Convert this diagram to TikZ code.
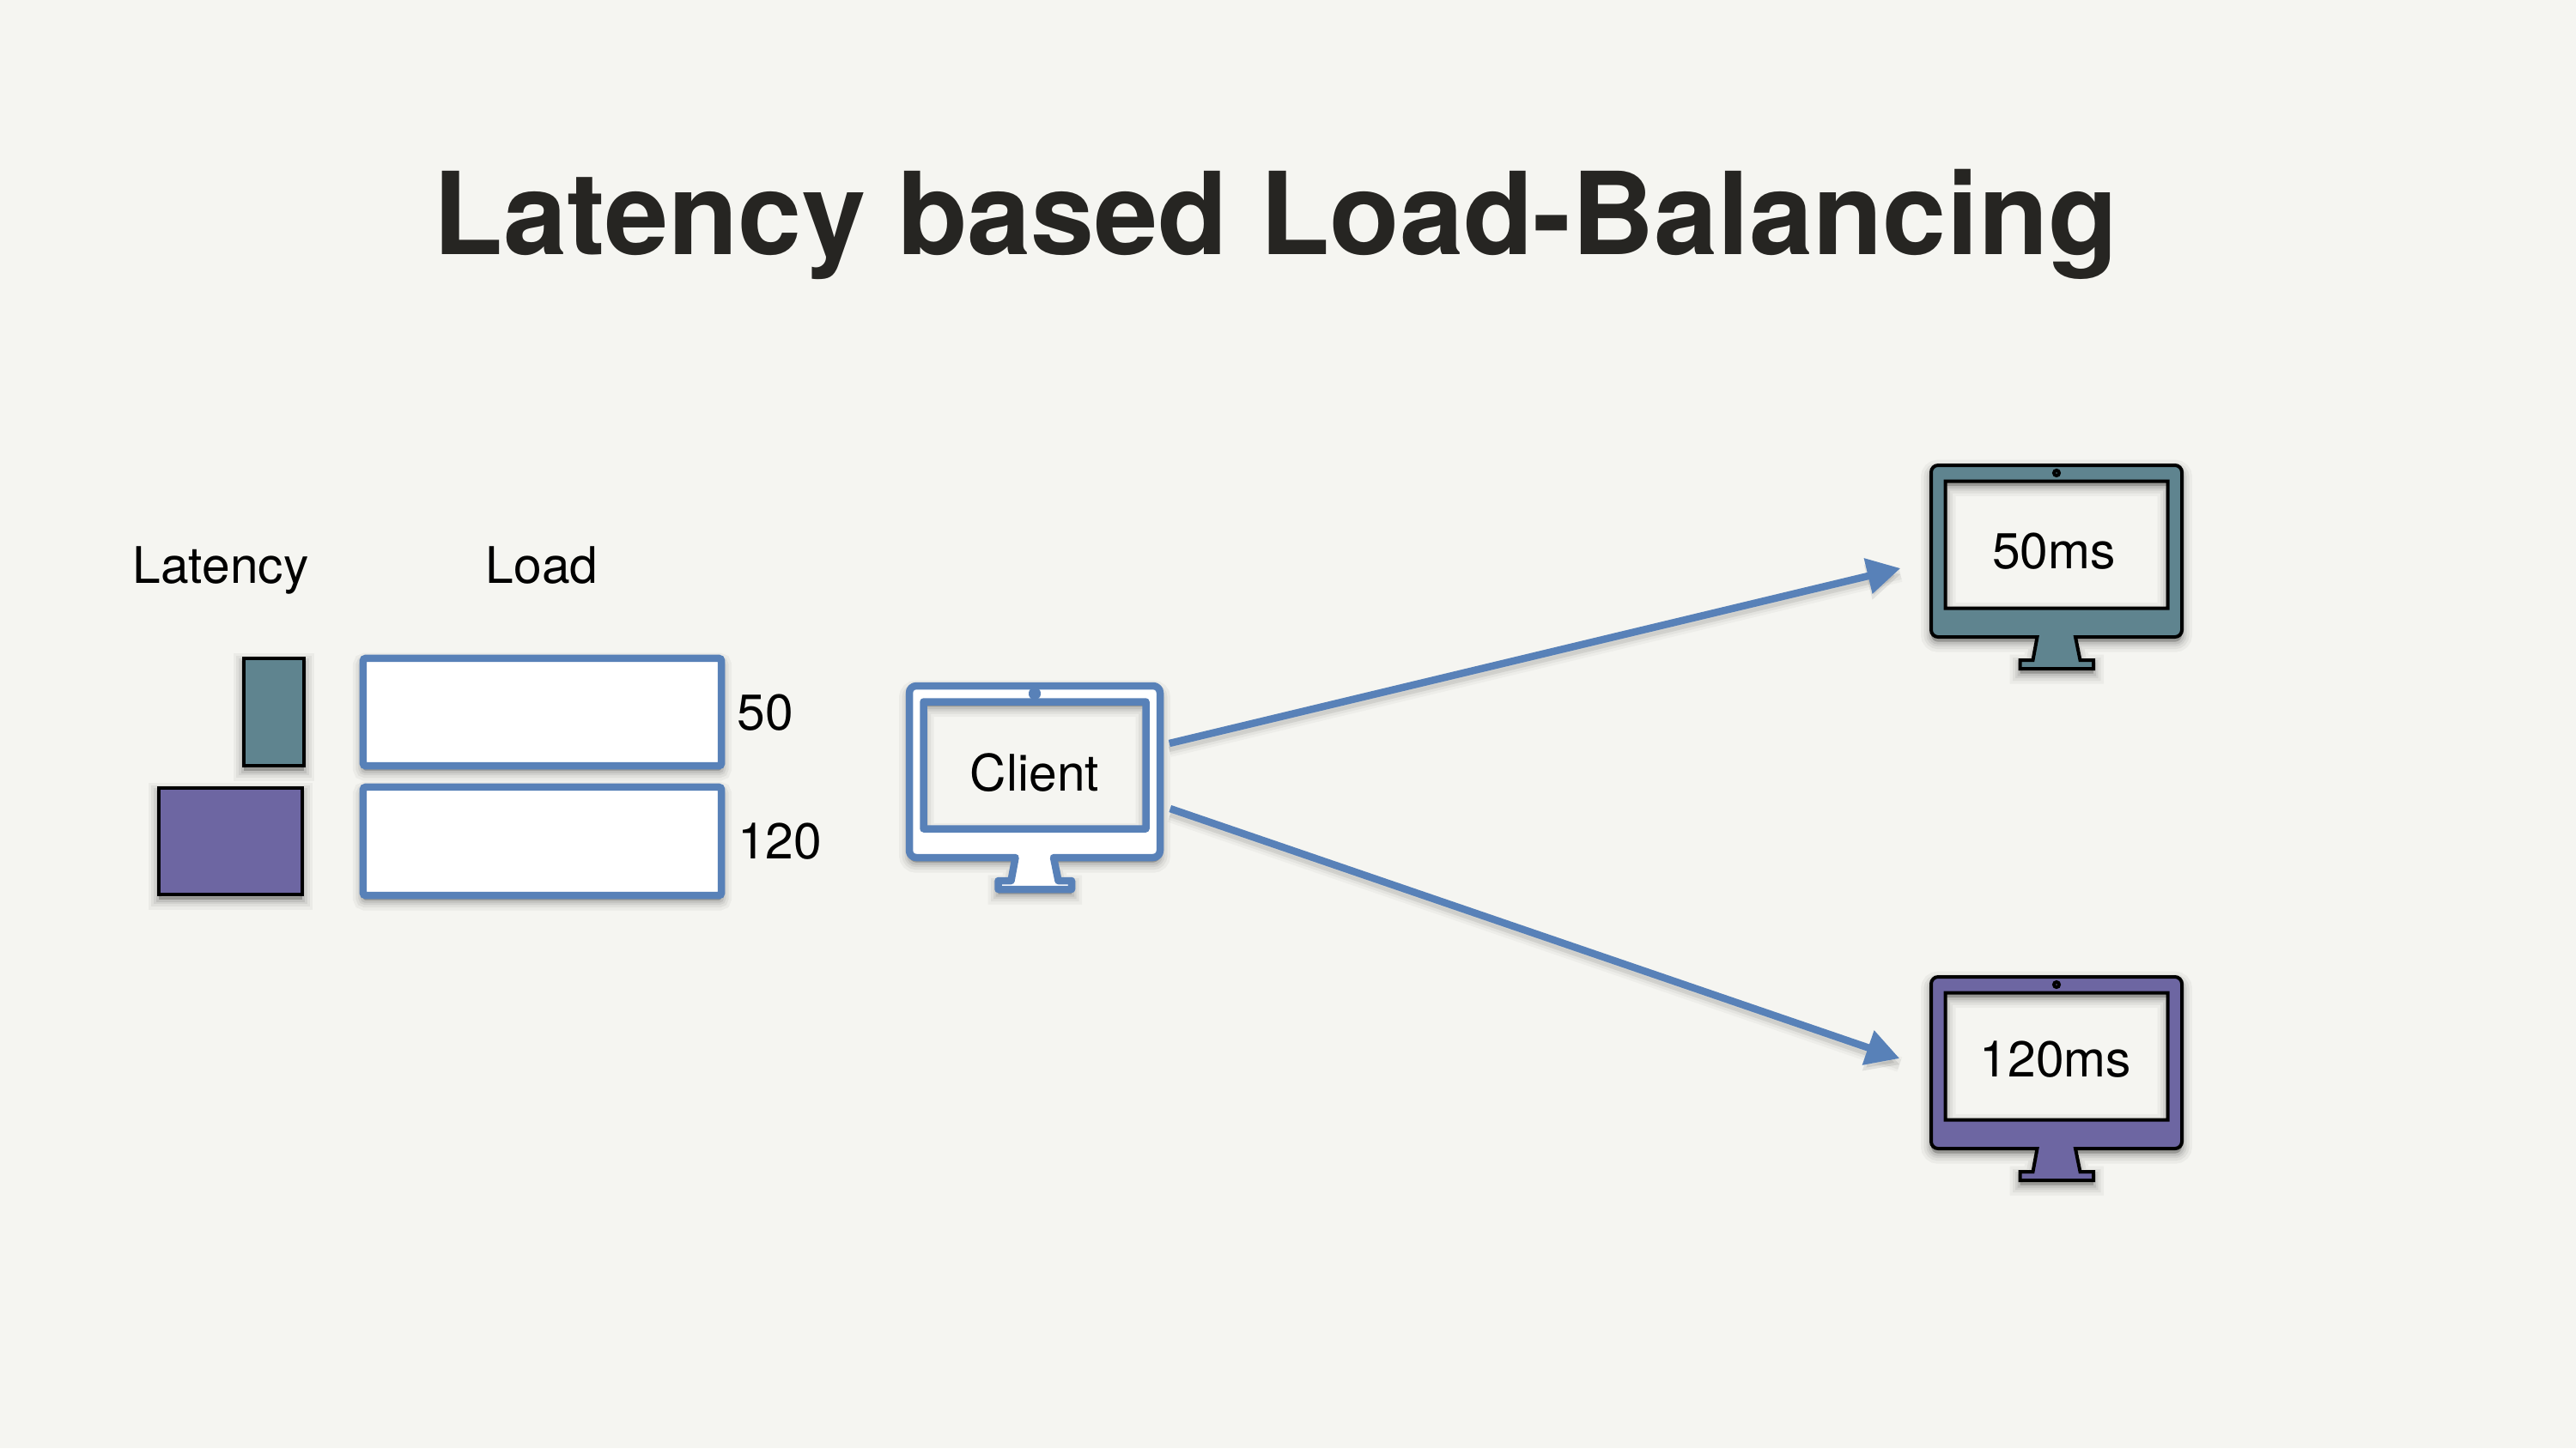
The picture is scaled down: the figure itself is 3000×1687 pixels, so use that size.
\documentclass[tikz,border=0pt]{standalone}
\usepackage{fontspec}
\setmainfont{TeX Gyre Heros}
\usepackage{xcolor}
\usepackage{tikz}
\usetikzlibrary{calc}
\usetikzlibrary{arrows.meta}
\definecolor{paper}{HTML}{F5F5F1}
\definecolor{loadblue}{HTML}{5881B8}
\definecolor{fastteal}{HTML}{5F848F}
\definecolor{slowpurple}{HTML}{6D66A2}
\definecolor{titleink}{HTML}{262522}
\newcommand{\pxu}{0.2845pt}
\tikzset{
 softshadow/.style={
  preaction={draw=black,fill=black,opacity=.04,line width=24*\pxu,transform canvas={yshift=-1.6pt}},
  preaction={draw=black,fill=black,opacity=.05,line width=17*\pxu,transform canvas={yshift=-1.6pt}},
  preaction={draw=black,fill=black,opacity=.06,line width=11*\pxu,transform canvas={yshift=-1.6pt}},
  preaction={draw=black,fill=black,opacity=.08,line width=6*\pxu,transform canvas={yshift=-1.6pt}}},
 linkshadow/.style={
  preaction={draw=black,-,opacity=.03,line width=18*\pxu,transform canvas={yshift=-2pt}},
  preaction={draw=black,-,opacity=.04,line width=12*\pxu,transform canvas={yshift=-2pt}},
  preaction={draw=black,fill=black,opacity=.08,line width=6*\pxu,transform canvas={yshift=-2pt}}},
 clientframe/.style={draw=loadblue,fill=white,line width=8.5*\pxu,line join=round},
 tealframe/.style={draw=black,fill=fastteal,line width=4*\pxu},
 purpleframe/.style={draw=black,fill=slowpurple,line width=4*\pxu},
 latbar/.style={draw=black,line width=4*\pxu,inner sep=0,softshadow},
 loadbar/.style={draw=loadblue,fill=white,line width=8.5*\pxu,rounded corners=.8pt,inner sep=0,softshadow,minimum width=417*\pxu},
 lbl/.style={anchor=base,inner sep=0,font=\fontsize{16.7}{20}\selectfont},
 link/.style={draw=loadblue,line width=8.5*\pxu,-{Triangle[length=11pt,width=11.5pt]},linkshadow},
}
% #1 name, #2 top left corner, #3 frame style
\newcommand{\monitor}[3]{
 \begin{scope}[shift={(#2)}]
  \path[#3,even odd rule,softshadow,rounded corners=2.3pt]
   (146,0) -- (292,0) -- (292,200) [sharp corners] -- (168,200) -- (173.5,227) -- (189,227)
   -- (189,237) -- (103.5,237) -- (103.5,227) -- (118.5,227) -- (123.5,200)
   [rounded corners=2.3pt] -- (0,200) -- (0,0) -- cycle
   [sharp corners] (16.5,18.5) rectangle (275.5,166.5);
  \path[#3] (146,9) circle (3);
  \node[minimum width=292*\pxu,minimum height=200*\pxu,inner sep=0] (#1) at (146,100) {};
 \end{scope}
}

\begin{document}
\begin{tikzpicture}[x=.01cm,y=-.01cm]
\useasboundingbox[fill=paper] (0,0) rectangle (3000,1687);
\node[anchor=base,inner sep=0,text=titleink,font=\fontsize{37.9}{45}\selectfont\bfseries] (title) at (1486,296) {Latency based Load-Balancing};

% legend
\node[lbl] (latencyhead) at (257,679) {Latency};
\node[lbl] (loadhead) at (631,679) {Load};
\node[latbar,fill=fastteal,minimum width=70*\pxu,minimum height=125*\pxu] (latfast) at (319,829.5) {};
\node[latbar,fill=slowpurple,minimum width=167*\pxu,minimum height=124*\pxu] (latslow) at (268.5,980) {};
\node[loadbar,minimum height=125*\pxu] (loadfast) at (631.5,829.5) {};
\node[loadbar,minimum height=126*\pxu] (loadslow) at (631.5,980) {};
\node[lbl] (loadfastval) at (891,850) {50};
\node[lbl] (loadslowval) at (908,1000) {120};

% monitors
\monitor{client}{1059,799}{clientframe}
\monitor{fast}{2249,542}{tealframe}
\monitor{slow}{2249,1138}{purpleframe}
\node[lbl] (clientlabel) at (1205,921) {Client};
\node[lbl] (fastlabel) at (2392,662) {50ms};
\node[lbl] (slowlabel) at (2394,1254) {120ms};

\path[link] ($(client.east)+(10,-33)$) -- ($(fast.west)+(-35,20)$);
\path[link] ($(client.east)+(11,43)$) -- ($(slow.west)+(-36,-5)$);
\end{tikzpicture}
\end{document}
